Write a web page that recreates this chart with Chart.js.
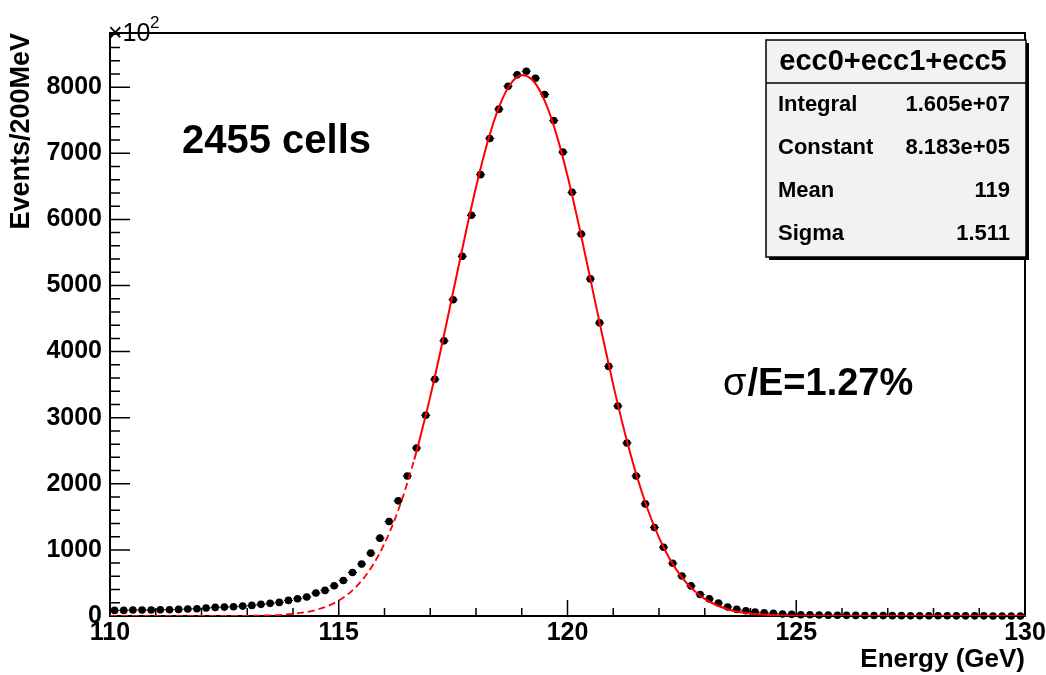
<!DOCTYPE html>
<html>
<head>
<meta charset="utf-8">
<script src="https://cdn.jsdelivr.net/npm/chart.js@4.4.1/dist/chart.umd.min.js"></script>
<style>
  html, body { margin: 0; padding: 0; background: #fff; }
  #wrap { width: 1046px; height: 675px; position: relative; }
</style>
</head>
<body>
<div id="wrap"><canvas id="c"></canvas></div>
<script>
// bin centres of the 200 MeV histogram (GeV)
const energy = [
  110.1, 110.3, 110.5, 110.7, 110.9, 111.1, 111.3, 111.5, 111.7, 111.9,
  112.1, 112.3, 112.5, 112.7, 112.9, 113.1, 113.3, 113.5, 113.7, 113.9,
  114.1, 114.3, 114.5, 114.7, 114.9, 115.1, 115.3, 115.5, 115.7, 115.9,
  116.1, 116.3, 116.5, 116.7, 116.9, 117.1, 117.3, 117.5, 117.7, 117.9,
  118.1, 118.3, 118.5, 118.7, 118.9, 119.1, 119.3, 119.5, 119.7, 119.9,
  120.1, 120.3, 120.5, 120.7, 120.9, 121.1, 121.3, 121.5, 121.7, 121.9,
  122.1, 122.3, 122.5, 122.7, 122.9, 123.1, 123.3, 123.5, 123.7, 123.9,
  124.1, 124.3, 124.5, 124.7, 124.9, 125.1, 125.3, 125.5, 125.7, 125.9,
  126.1, 126.3, 126.5, 126.7, 126.9, 127.1, 127.3, 127.5, 127.7, 127.9,
  128.1, 128.3, 128.5, 128.7, 128.9, 129.1, 129.3, 129.5, 129.7, 129.9
];
// events per bin, in units of 10^2
const events = [
  85, 85, 90, 90, 90, 95, 95, 100, 105, 110,
  120, 130, 135, 140, 150, 160, 176, 191, 206, 236,
  262, 287, 347, 387, 458, 538, 659, 785, 951, 1178,
  1429, 1742, 2119, 2542, 3036, 3580, 4163, 4785, 5443, 6062,
  6677, 7225, 7668, 8015, 8187, 8242, 8136, 7890, 7497, 7018,
  6409, 5779, 5100, 4435, 3776, 3177, 2618, 2119, 1696, 1338,
  1040, 797, 606, 455, 325, 259, 196, 136, 100, 80,
  60, 50, 40, 30, 25, 20, 18, 15, 13, 12,
  10, 9, 8, 7, 6, 5, 5, 4, 4, 3,
  3, 3, 2, 2, 2, 2, 1, 1, 1, 1
];

// gaussian fit, dashed below the fit range
const fitDashE = [110, 111, 112, 112.5, 113, 113.25, 113.5, 113.75, 114, 114.25,
  114.5, 114.75, 115, 115.25, 115.5, 115.75, 116, 116.25, 116.5, 116.65];
const fitDashY = [0, 0.01, 0.16, 0.72, 2.85, 5.4, 10.1, 18.3, 32.1, 54.9,
  91.4, 148, 233, 358, 534, 776, 1096, 1506, 2014, 2367];
// ... and solid inside it
const fitSolidE = [116.65, 116.75, 117, 117.25, 117.5, 117.75, 118, 118.25, 118.5, 118.75,
  119, 119.25, 119.5, 119.75, 120, 120.25, 120.5, 120.75, 121, 121.25,
  121.5, 121.75, 122, 122.25, 122.5, 122.75, 123, 123.25, 123.5, 123.75,
  124, 124.25, 124.5, 124.75, 125, 126, 128, 130];
const fitSolidY = [2367, 2622, 3319, 4088, 4901, 5716, 6487, 7163, 7695, 8044,
  8181, 8097, 7797, 7305, 6659, 5907, 5098, 4281, 3497, 2781,
  2151, 1619, 1186, 845, 586, 395, 259, 166, 103, 62,
  36.6, 21, 11.7, 6.3, 3.3, 0.4, 0, 0];

const xLabels = [110, 115, 120, 125, 130];
const yLabels = [0, 1000, 2000, 3000, 4000, 5000, 6000, 7000, 8000];

const statTitle = 'ecc0+ecc1+ecc5';
const statNames = ['Integral', 'Constant', 'Mean', 'Sigma'];
const statValues = ['1.605e+07', '8.183e+05', '119', '1.511'];

const FONT = '"Liberation Sans", Arial, Helvetica, sans-serif';

// tick marks every 1 GeV and every 200 events
const xTickVals = [];
for (let v = 110; v <= 130; v++) xTickVals.push(v);
const yTickVals = [];
for (let v = 0; v <= 8800; v += 200) yTickVals.push(v);

const rootLook = {
  id: 'rootLook',
  beforeDatasetsDraw(chart) {
    const { ctx, chartArea: a, scales: { x, y } } = chart;
    ctx.save();
    ctx.strokeStyle = '#000';
    ctx.lineWidth = 2;
    ctx.strokeRect(a.left, a.top, a.right - a.left, a.bottom - a.top);

    // ticks point inward like ROOT
    ctx.lineWidth = 1.5;
    ctx.beginPath();
    x.ticks.forEach(t => {
      const px = x.getPixelForValue(t.value);
      const len = t.value % 5 === 0 ? 16 : 8;
      ctx.moveTo(px, a.bottom);
      ctx.lineTo(px, a.bottom - len);
    });
    y.ticks.forEach(t => {
      const py = y.getPixelForValue(t.value);
      const len = t.value % 1000 === 0 ? 20 : 10;
      ctx.moveTo(a.left, py);
      ctx.lineTo(a.left + len, py);
    });
    ctx.stroke();

    // horizontal bin-width error bars
    ctx.lineWidth = 1;
    ctx.beginPath();
    energy.forEach((e, i) => {
      const py = y.getPixelForValue(events[i]);
      ctx.moveTo(x.getPixelForValue(e - 0.1), py);
      ctx.lineTo(x.getPixelForValue(e + 0.1), py);
    });
    ctx.stroke();
    ctx.restore();
  },
  afterDraw(chart) {
    const ctx = chart.ctx;
    ctx.save();
    ctx.fillStyle = '#000';
    ctx.textAlign = 'left';
    ctx.textBaseline = 'alphabetic';

    // axis multiplier
    ctx.font = `25px ${FONT}`;
    ctx.fillText('\u00d710', 108, 41);
    ctx.font = `17px ${FONT}`;
    ctx.fillText('2', 150, 28);

    ctx.font = `bold 40px ${FONT}`;
    ctx.fillText('2455 cells', 182, 153);

    ctx.font = `38px ${FONT}`;
    ctx.fillText('\u03c3', 723, 395);
    const sw = ctx.measureText('\u03c3').width;
    ctx.font = `bold 38px ${FONT}`;
    ctx.fillText('/E=1.27%', 723 + sw + 1, 395);

    // stats box
    const bx = 766, by = 40, bw = 260, bh = 217;
    ctx.fillRect(bx + 3, by + 3, bw, bh);
    ctx.fillStyle = '#f2f2f2';
    ctx.fillRect(bx, by, bw, bh);
    ctx.strokeStyle = '#000';
    ctx.lineWidth = 1.5;
    ctx.strokeRect(bx, by, bw, bh);
    ctx.beginPath();
    ctx.moveTo(bx, 83);
    ctx.lineTo(bx + bw, 83);
    ctx.stroke();

    ctx.fillStyle = '#000';
    ctx.textBaseline = 'middle';
    ctx.textAlign = 'center';
    ctx.font = `bold 29px ${FONT}`;
    ctx.fillText(statTitle, 893, 62);
    ctx.font = `bold 22px ${FONT}`;
    const rowY = [105, 148, 191, 234];
    statNames.forEach((n, i) => {
      ctx.textAlign = 'left';
      ctx.fillText(n, 778, rowY[i]);
      ctx.textAlign = 'right';
      ctx.fillText(statValues[i], 1010, rowY[i]);
    });
    ctx.restore();
  }
};

new Chart(document.getElementById('c'), {
  type: 'scatter',
  data: {
    datasets: [
      {
        label: 'fit',
        data: fitSolidE.map((e, i) => ({ x: e, y: fitSolidY[i] })),
        showLine: true,
        borderColor: '#ff0000',
        borderWidth: 2,
        pointRadius: 0,
        cubicInterpolationMode: 'monotone',
        order: 0
      },
      {
        label: 'fit (extrapolated)',
        data: fitDashE.map((e, i) => ({ x: e, y: fitDashY[i] })),
        showLine: true,
        borderColor: '#ff0000',
        borderWidth: 1.8,
        borderDash: [7, 4],
        pointRadius: 0,
        cubicInterpolationMode: 'monotone',
        order: 1
      },
      {
        label: 'data',
        data: energy.map((e, i) => ({ x: e, y: events[i] })),
        pointRadius: 3.8,
        pointBorderWidth: 0,
        backgroundColor: '#000',
        borderColor: '#000',
        clip: false,
        order: 2
      }
    ]
  },
  options: {
    responsive: true,
    maintainAspectRatio: false,
    animation: false,
    devicePixelRatio: 1,
    layout: { padding: { left: 0, top: 33, right: 21, bottom: 0 } },
    plugins: { legend: { display: false }, tooltip: { enabled: false } },
    scales: {
      x: {
        type: 'linear',
        min: 110,
        max: 130,
        afterBuildTicks: s => { s.ticks = xTickVals.map(v => ({ value: v })); },
        afterFit: s => { s.height = 59; s.paddingLeft = 0; s.paddingRight = 0; },
        grid: { display: false, drawTicks: false },
        border: { display: false },
        ticks: {
          autoSkip: false,
          maxRotation: 0,
          padding: 2,
          color: '#000',
          font: { family: FONT, size: 25, weight: 'bold' },
          callback: v => xLabels.includes(v) ? String(v) : ''
        },
        title: {
          display: true,
          text: 'Energy (GeV)',
          align: 'end',
          color: '#000',
          font: { family: FONT, size: 26, weight: 'bold' },
          padding: { top: 0, bottom: 0 }
        }
      },
      y: {
        type: 'linear',
        min: 0,
        max: 8820,
        afterBuildTicks: s => { s.ticks = yTickVals.map(v => ({ value: v })); },
        afterFit: s => { s.width = 110; s.paddingTop = 0; s.paddingBottom = 0; },
        grid: { display: false, drawTicks: false },
        border: { display: false },
        ticks: {
          autoSkip: false,
          padding: 8,
          color: '#000',
          font: { family: FONT, size: 25, weight: 'bold' },
          callback: v => yLabels.includes(v) ? String(v) : ''
        },
        title: {
          display: true,
          text: 'Events/200MeV',
          align: 'end',
          color: '#000',
          font: { family: FONT, size: 27, weight: 'bold' },
          padding: { top: 5, bottom: 0 }
        }
      }
    }
  },
  plugins: [rootLook]
});
</script>
</body>
</html>
